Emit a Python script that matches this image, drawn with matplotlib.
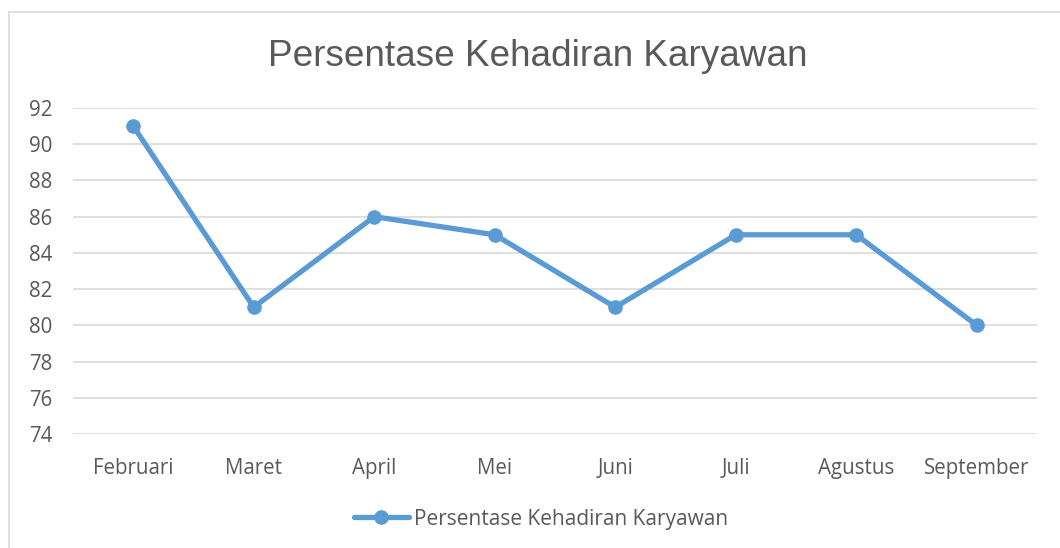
import matplotlib.pyplot as plt
from matplotlib.patches import Rectangle

months = ["Februari", "Maret", "April", "Mei", "Juni", "Juli", "Agustus", "September"]
kehadiran = [91, 81, 86, 85, 81, 85, 85, 80]
y_ticks = list(range(74, 93, 2))

blue = "#5B9BD5"
text_gray = "#595959"
grid_gray = "#D9D9D9"

plt.rcParams["font.family"] = ["Open Sans", "DejaVu Sans"]

fig = plt.figure(figsize=(10.6, 5.48), dpi=100)
# chart border, Excel style (runs off the right/bottom edge)
fig.patches.append(Rectangle((9 / 1060, -0.1), 1.2, (548 - 12) / 548 + 0.1,
                             transform=fig.transFigure, fill=False,
                             edgecolor=grid_gray, linewidth=1.2))

ax = fig.add_axes([73 / 1060, (548 - 434) / 548, 964 / 1060, 326 / 548])
x = range(len(months))
ax.plot(x, kehadiran, color=blue, linewidth=3.8, marker="o", markersize=9.5,
        label="Persentase Kehadiran Karyawan", solid_capstyle="round")

ax.set_xlim(-0.5, len(months) - 0.5)
ax.set_ylim(74, 92)
ax.set_yticks(y_ticks)
ax.set_xticks(list(x))
ax.set_xticklabels(months)
ax.grid(axis="y", color=grid_gray, linewidth=1.2)
ax.set_axisbelow(True)
for s in ax.spines.values():
    s.set_visible(False)
ax.tick_params(length=0, labelsize=14.8, labelcolor=text_gray)
ax.tick_params(axis="y", pad=15)
ax.tick_params(axis="x", pad=17)

fig.text(538 / 1060, 1 - 57 / 548, "Persentase Kehadiran Karyawan",
         ha="center", va="center", fontsize=26.6, color=text_gray,
         family="Liberation Sans")

fig.legend(loc="center", bbox_to_anchor=(541 / 1060, 1 - 519 / 548),
           frameon=False, fontsize=15, labelcolor=text_gray,
           handlelength=2.65, handletextpad=0.25)

fig.savefig("out.png", dpi=100)
